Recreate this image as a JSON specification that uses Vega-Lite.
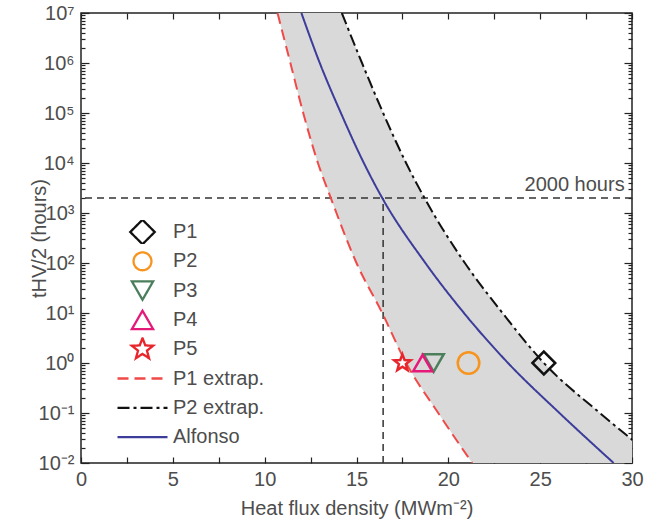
{
  "$schema": "https://vega.github.io/schema/vega-lite/v6.json",
  "width": 551,
  "height": 450,
  "autosize": "none",
  "padding": {"left": 81, "top": 13, "right": 15, "bottom": 64},
  "config": {
    "font": "Liberation Sans",
    "view": {"stroke": "#222222", "strokeWidth": 1.5},
    "axis": {"grid": false, "domain": false, "tickColor": "#222222", "tickWidth": 1.2, "labelFontSize": 20, "labelColor": "#4d4d4d", "titleFontSize": 20, "titleFontWeight": "normal", "titleColor": "#4d4d4d"}
  },
  "datasets": {
    "band": [
      {"t": 10000000, "lo": 10.7, "hi": 14.2},
      {"t": 1000000, "lo": 11.4, "hi": 15.3},
      {"t": 100000, "lo": 12.1, "hi": 16.45},
      {"t": 10000, "lo": 12.9, "hi": 17.7},
      {"t": 2000, "lo": 13.6, "hi": 18.7},
      {"t": 100, "lo": 15.0, "hi": 20.9},
      {"t": 10, "lo": 16.4, "hi": 22.95},
      {"t": 1, "lo": 17.7, "hi": 25.2},
      {"t": 0.1, "lo": 19.45, "hi": 28.25},
      {"t": 0.01, "lo": 21.3, "hi": 31.6}
    ],
    "curves": [
      {"series": "P1 extrap.", "t": 10000000, "x": 10.7},
      {"series": "P1 extrap.", "t": 1000000, "x": 11.4},
      {"series": "P1 extrap.", "t": 100000, "x": 12.1},
      {"series": "P1 extrap.", "t": 10000, "x": 12.9},
      {"series": "P1 extrap.", "t": 2000, "x": 13.6},
      {"series": "P1 extrap.", "t": 100, "x": 15.0},
      {"series": "P1 extrap.", "t": 10, "x": 16.4},
      {"series": "P1 extrap.", "t": 1, "x": 17.7},
      {"series": "P1 extrap.", "t": 0.1, "x": 19.45},
      {"series": "P1 extrap.", "t": 0.01, "x": 21.3},
      {"series": "P2 extrap.", "t": 10000000, "x": 14.2},
      {"series": "P2 extrap.", "t": 1000000, "x": 15.3},
      {"series": "P2 extrap.", "t": 100000, "x": 16.45},
      {"series": "P2 extrap.", "t": 10000, "x": 17.7},
      {"series": "P2 extrap.", "t": 2000, "x": 18.7},
      {"series": "P2 extrap.", "t": 100, "x": 20.9},
      {"series": "P2 extrap.", "t": 10, "x": 22.95},
      {"series": "P2 extrap.", "t": 1, "x": 25.2},
      {"series": "P2 extrap.", "t": 0.1, "x": 28.25},
      {"series": "P2 extrap.", "t": 0.01, "x": 31.6},
      {"series": "Alfonso", "t": 10000000, "x": 12.0},
      {"series": "Alfonso", "t": 1000000, "x": 13.0},
      {"series": "Alfonso", "t": 100000, "x": 14.15},
      {"series": "Alfonso", "t": 10000, "x": 15.4},
      {"series": "Alfonso", "t": 2000, "x": 16.4},
      {"series": "Alfonso", "t": 100, "x": 18.75},
      {"series": "Alfonso", "t": 10, "x": 20.85},
      {"series": "Alfonso", "t": 1, "x": 23.25},
      {"series": "Alfonso", "t": 0.1, "x": 26.05},
      {"series": "Alfonso", "t": 0.01, "x": 29.0}
    ],
    "points": [
      {"series": "P1", "x": 25.2, "t": 1},
      {"series": "P2", "x": 21.1, "t": 1},
      {"series": "P5", "x": 17.5, "t": 1},
      {"series": "P3", "x": 19.2, "t": 1},
      {"series": "P4", "x": 18.6, "t": 1}
    ],
    "hline": [{"t": 2000}],
    "vline": [{"x": 16.45, "t0": 0.01, "t1": 2000}],
    "note": [{"x": 29.6, "t": 2000, "label": "2000 hours"}]
  },
  "layer": [
    {
      "data": {"name": "band"},
      "mark": {"type": "area", "orient": "horizontal", "color": "#d9d9d9", "clip": true, "interpolate": "monotone"},
      "encoding": {
        "y": {"field": "t", "type": "quantitative", "scale": {"type": "log", "domain": [0.01, 10000000]},
          "axis": {"orient": "left", "title": "tHV/2 (hours)", "titlePadding": -11,
            "values": [0.01,0.02,0.03,0.04,0.05,0.06,0.07,0.08,0.09,0.1,0.2,0.3,0.4,0.5,0.6,0.7,0.8,0.9,1,2,3,4,5,6,7,8,9,10,20,30,40,50,60,70,80,90,100,200,300,400,500,600,700,800,900,1000,2000,3000,4000,5000,6000,7000,8000,9000,10000,20000,30000,40000,50000,60000,70000,80000,90000,100000,200000,300000,400000,500000,600000,700000,800000,900000,1000000,2000000,3000000,4000000,5000000,6000000,7000000,8000000,9000000,10000000],
            "labelExpr": "abs(log(datum.value)/LN10 - round(log(datum.value)/LN10)) < 0.001 ? ['10⁻²','10⁻¹','10⁰','10¹','10²','10³','10⁴','10⁵','10⁶','10⁷'][round(log(datum.value)/LN10)+2] : ''",
            "tickSize": {"condition": {"test": "abs(log(datum.value)/LN10 - round(log(datum.value)/LN10)) < 0.001", "value": -8}, "value": -4},
            "labelPadding": 15, "labelFlush": false, "labelOverlap": false}},
        "x": {"field": "lo", "type": "quantitative", "scale": {"domain": [0, 30], "nice": false},
          "axis": {"orient": "bottom", "title": "Heat flux density (MWm⁻²)", "titlePadding": 9,
            "values": [0,2.5,5,7.5,10,12.5,15,17.5,20,22.5,25,27.5,30],
            "labelExpr": "datum.value % 5 == 0 ? datum.label : ''",
            "tickSize": -6, "labelPadding": 12, "labelFlush": false, "labelOverlap": false}},
        "x2": {"field": "hi"}
      }
    },
    {
      "data": {"name": "hline"},
      "mark": {"type": "rule", "color": "#333333", "strokeDash": [7, 5], "strokeWidth": 1.5},
      "encoding": {
        "y": {"field": "t", "type": "quantitative",
          "axis": {"orient": "right", "title": null, "labels": false,
            "values": [0.01,0.02,0.03,0.04,0.05,0.06,0.07,0.08,0.09,0.1,0.2,0.3,0.4,0.5,0.6,0.7,0.8,0.9,1,2,3,4,5,6,7,8,9,10,20,30,40,50,60,70,80,90,100,200,300,400,500,600,700,800,900,1000,2000,3000,4000,5000,6000,7000,8000,9000,10000,20000,30000,40000,50000,60000,70000,80000,90000,100000,200000,300000,400000,500000,600000,700000,800000,900000,1000000,2000000,3000000,4000000,5000000,6000000,7000000,8000000,9000000,10000000],
            "tickSize": {"condition": {"test": "abs(log(datum.value)/LN10 - round(log(datum.value)/LN10)) < 0.001", "value": -8}, "value": -4}}}
      }
    },
    {
      "data": {"name": "vline"},
      "mark": {"type": "rule", "color": "#333333", "strokeDash": [7, 5], "strokeWidth": 1.5},
      "encoding": {
        "x": {"field": "x", "type": "quantitative",
          "axis": {"orient": "top", "title": null, "labels": false,
            "values": [0,2.5,5,7.5,10,12.5,15,17.5,20,22.5,25,27.5,30], "tickSize": -6}},
        "y": {"field": "t0", "type": "quantitative", "axis": null},
        "y2": {"field": "t1"}
      }
    },
    {
      "data": {"name": "curves"},
      "mark": {"type": "line", "strokeWidth": 2, "clip": true, "interpolate": "monotone"},
      "encoding": {
        "x": {"field": "x", "type": "quantitative", "axis": null},
        "y": {"field": "t", "type": "quantitative", "axis": null},
        "color": {"field": "series", "type": "nominal",
          "scale": {"domain": ["P1","P2","P3","P4","P5","P1 extrap.","P2 extrap.","Alfonso"], "range": ["#111111","#f7941e","#4b7f5b","#e5197a","#e8252b","#f04a48","#111111","#3c3c9a"]},
          "legend": {"title": null, "orient": "none", "legendX": 35, "legendY": 207, "symbolSize": 2500, "symbolStrokeWidth": 2.3, "clipHeight": 24, "rowPadding": 5.3, "labelFontSize": 20, "labelColor": "#4d4d4d", "labelOffset": 4, "padding": 0,
            "encode": {"symbols": {"update": {"size": {"signal": "datum.value == 'P1' ? 600 : datum.value == 'P2' ? 320 : datum.value == 'P5' ? 500 : (datum.value == 'P3' || datum.value == 'P4') ? 450 : 2500"}}}}}},
        "strokeDash": {"field": "series", "type": "nominal",
          "scale": {"domain": ["P1","P2","P3","P4","P5","P1 extrap.","P2 extrap.","Alfonso"], "range": [[1,0],[1,0],[1,0],[1,0],[1,0],[11,6],[12,4,3,4],[1,0]]},
          "legend": {"title": null, "orient": "none", "legendX": 35, "legendY": 207, "symbolSize": 2500, "symbolStrokeWidth": 2.3, "clipHeight": 24, "rowPadding": 5.3, "labelFontSize": 20, "labelColor": "#4d4d4d", "labelOffset": 4, "padding": 0,
            "encode": {"symbols": {"update": {"size": {"signal": "datum.value == 'P1' ? 600 : datum.value == 'P2' ? 320 : datum.value == 'P5' ? 500 : (datum.value == 'P3' || datum.value == 'P4') ? 450 : 2500"}}}}}}
      }
    },
    {
      "data": {"name": "points"},
      "mark": {"type": "point", "filled": false, "strokeWidth": 2.5, "opacity": 1},
      "encoding": {
        "x": {"field": "x", "type": "quantitative", "axis": null},
        "y": {"field": "t", "type": "quantitative", "axis": null},
        "color": {"field": "series", "type": "nominal"},
        "shape": {"field": "series", "type": "nominal",
          "scale": {"domain": ["P1","P2","P3","P4","P5","P1 extrap.","P2 extrap.","Alfonso"], "range": ["diamond","circle","triangle-down","triangle-up","M0,-1L0.247,-0.34L0.951,-0.309L0.399,0.13L0.588,0.809L0,0.42L-0.588,0.809L-0.399,0.13L-0.951,-0.309L-0.247,-0.34Z","stroke","stroke","stroke"]},
          "legend": {"title": null, "orient": "none", "legendX": 35, "legendY": 207, "symbolSize": 2500, "symbolStrokeWidth": 2.3, "clipHeight": 24, "rowPadding": 5.3, "labelFontSize": 20, "labelColor": "#4d4d4d", "labelOffset": 4, "padding": 0,
            "encode": {"symbols": {"update": {"size": {"signal": "datum.value == 'P1' ? 600 : datum.value == 'P2' ? 320 : datum.value == 'P5' ? 500 : (datum.value == 'P3' || datum.value == 'P4') ? 450 : 2500"}}}}}},
        "size": {"field": "series", "type": "nominal", "scale": {"domain": ["P1","P2","P3","P4","P5"], "range": [520,300,420,420,480]}, "legend": null}
      }
    },
    {
      "data": {"name": "note"},
      "mark": {"type": "text", "align": "right", "baseline": "bottom", "dy": -3, "fontSize": 20, "color": "#4d4d4d"},
      "encoding": {
        "x": {"field": "x", "type": "quantitative", "axis": null},
        "y": {"field": "t", "type": "quantitative", "axis": null},
        "text": {"field": "label"}
      }
    }
  ],
  "resolve": {"axis": {"x": "independent", "y": "independent"}}
}
